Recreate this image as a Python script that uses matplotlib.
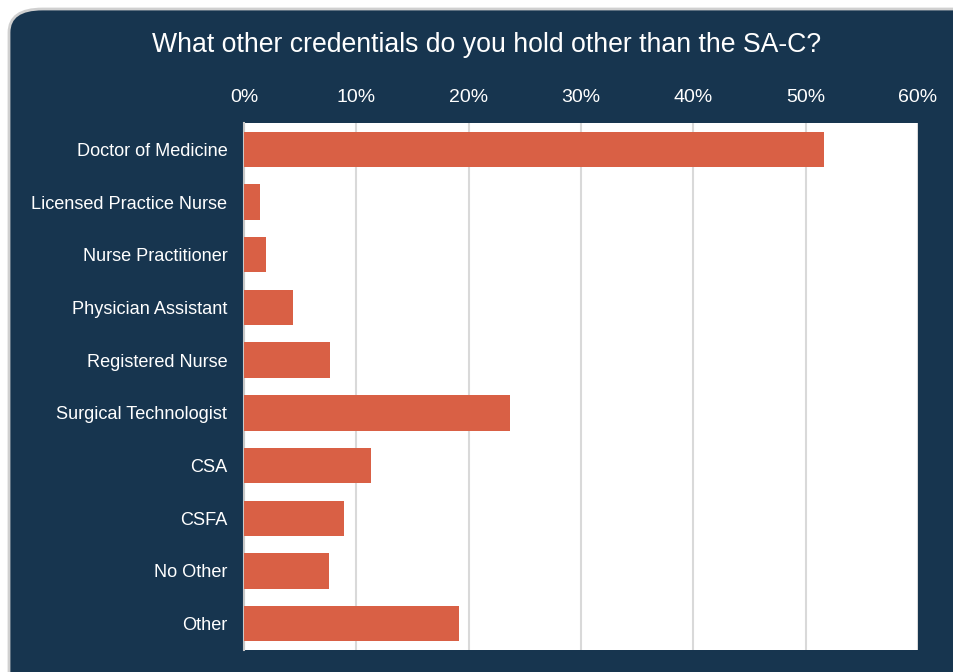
import matplotlib.pyplot as plt
from matplotlib.patches import FancyBboxPatch
from matplotlib.ticker import PercentFormatter

categories = ["Doctor of Medicine", "Licensed Practice Nurse", "Nurse Practitioner",
              "Physician Assistant", "Registered Nurse", "Surgical Technologist",
              "CSA", "CSFA", "No Other", "Other"]
shares = [51.6, 1.4, 2.0, 4.4, 7.7, 23.7, 11.3, 8.9, 7.6, 19.1]
ticks = [0, 10, 20, 30, 40, 50, 60]

navy = "#17354f"
bar_color = "#d96045"

plt.rcParams["font.family"] = ["Liberation Sans", "DejaVu Sans"]

fig = plt.figure(figsize=(9.54, 6.72), dpi=100)
fig.patch.set_facecolor("white")

# rounded dark panel behind everything
panel = FancyBboxPatch((9 / 954, -0.2), 1.2, 1.2 - 9 / 672,
                       boxstyle="round,pad=0,rounding_size=0.035",
                       transform=fig.transFigure, facecolor=navy,
                       edgecolor="#d0d0d0", linewidth=2, zorder=-10)
fig.patches.append(panel)

ax = fig.add_axes([244 / 954, 22 / 672, 674 / 954, 527 / 672])
ax.set_facecolor("white")

y = list(range(len(categories)))
ax.barh(y, shares, height=0.67, color=bar_color, zorder=3)

ax.set_ylim(len(categories) - 0.5, -0.5)
ax.set_xlim(0, 60)
ax.set_xticks(ticks)
ax.xaxis.set_major_formatter(PercentFormatter(decimals=0))
ax.xaxis.tick_top()
ax.set_yticks(y)
ax.set_yticklabels(categories)

ax.tick_params(axis="x", length=0, pad=12, labelsize=14, labelcolor="white")
ax.tick_params(axis="y", length=0, pad=12, labelsize=13.1, labelcolor="white")

ax.grid(axis="x", color="#d9d9d9", linewidth=1.5, zorder=0)
for side in ["top", "right", "bottom"]:
    ax.spines[side].set_visible(False)
ax.spines["left"].set_color("#c8c8c8")
ax.spines["left"].set_linewidth(1.5)

fig.text(487 / 954, 1 - 45 / 672, "What other credentials do you hold other than the SA-C?",
         ha="center", va="center", color="white", fontsize=19.2)

fig.savefig("out.png", dpi=100, facecolor=fig.get_facecolor())
